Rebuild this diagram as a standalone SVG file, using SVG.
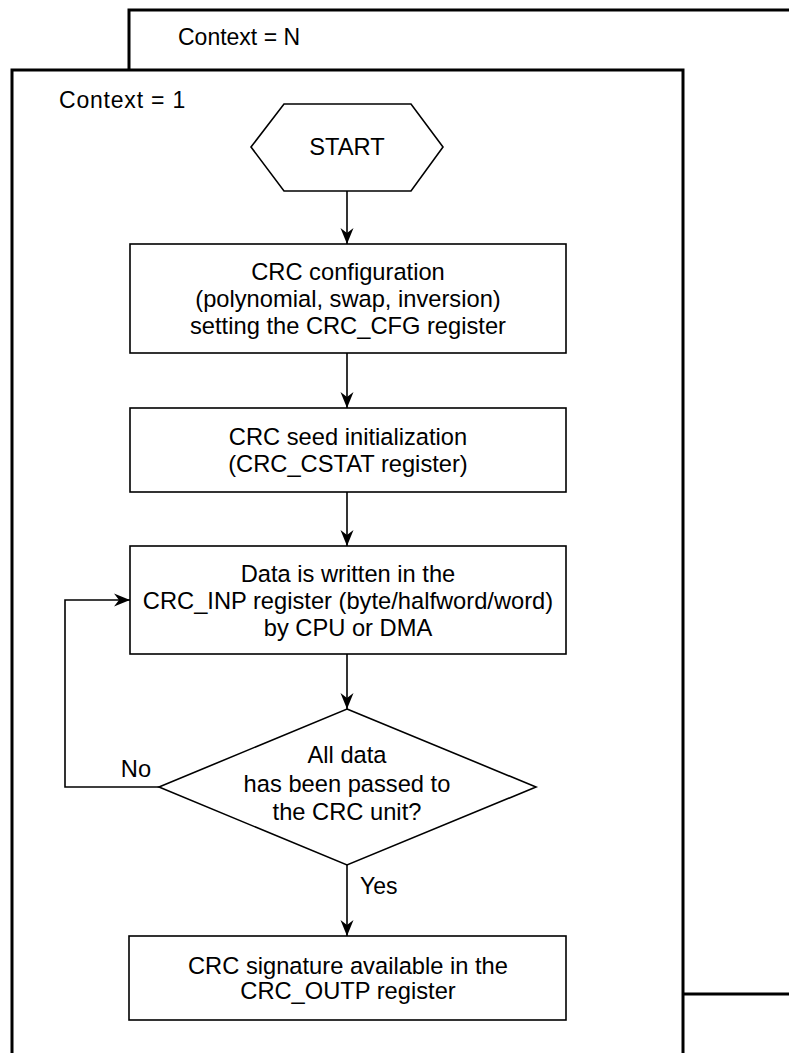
<svg xmlns="http://www.w3.org/2000/svg" width="789" height="1053" viewBox="0 0 789 1053">
<style>
.frame{fill:#fff;stroke:#000;stroke-width:3}
.box{fill:#fff;stroke:#000;stroke-width:1.6}
.conn{fill:none;stroke:#000;stroke-width:1.6}
text{font-family:"Liberation Sans",Arial,Helvetica,sans-serif;fill:#000}
.t{font-size:23.7px;text-anchor:middle}
.lbl{font-size:23px}
</style>
<defs>
<marker id="arr" viewBox="-17 -7 18 14" markerWidth="18" markerHeight="14" refX="0" refY="0" orient="auto" markerUnits="userSpaceOnUse">
<path d="M0,0 L-16,-6.5 L-11,0 L-16,6.5 Z" fill="#000"/>
</marker>
</defs>
<rect width="789" height="1053" fill="#fff"/>
<g id="frame-n">
<path class="frame" d="M129,72 V10 H795 V994 H683"/>
<text class="lbl" x="178" y="45">Context = N</text>
</g>
<g id="frame-1">
<rect class="frame" x="12" y="70" width="671" height="1000"/>
<text class="lbl" x="59" y="108" letter-spacing="0.8">Context = 1</text>
</g>
<g id="start">
<polygon class="box" points="251,147 284,104 411,104 443,147 411,191 284,191"/>
<text class="t" x="347" y="155">START</text>
</g>
<g id="config">
<rect class="box" x="130" y="244" width="436" height="109"/>
<text class="t" x="348" y="280">CRC configuration</text>
<text class="t" x="348" y="307">(polynomial, swap, inversion)</text>
<text class="t" x="348" y="334">setting the CRC_CFG register</text>
</g>
<g id="seed">
<rect class="box" x="130" y="408" width="436" height="84"/>
<text class="t" x="348" y="445">CRC seed initialization</text>
<text class="t" x="348" y="472">(CRC_CSTAT register)</text>
</g>
<g id="write">
<rect class="box" x="130" y="546" width="436" height="108"/>
<text class="t" x="348" y="582">Data is written in the</text>
<text class="t" x="348" y="609">CRC_INP register (byte/halfword/word)</text>
<text class="t" x="348" y="636">by CPU or DMA</text>
</g>
<g id="decision">
<polygon class="box" points="347,709 536,787 347,865 159,787"/>
<text class="t" x="347" y="763">All data</text>
<text class="t" x="347" y="792">has been passed to</text>
<text class="t" x="347" y="820">the CRC unit?</text>
</g>
<g id="signature">
<rect class="box" x="129" y="936" width="437" height="84"/>
<text class="t" x="348" y="974">CRC signature available in the</text>
<text class="t" x="348" y="999">CRC_OUTP register</text>
</g>
<g id="connectors">
<path class="conn" d="M347,191 V244" marker-end="url(#arr)"/>
<path class="conn" d="M347,353 V408" marker-end="url(#arr)"/>
<path class="conn" d="M347,492 V546" marker-end="url(#arr)"/>
<path class="conn" d="M347,654 V709" marker-end="url(#arr)"/>
<path class="conn" d="M347,865 V936" marker-end="url(#arr)"/>
<path class="conn" d="M159,787 H65 V600 H130" marker-end="url(#arr)"/>
<text class="t" x="136" y="777">No</text>
<text class="lbl" x="360" y="894" font-size="23.7">Yes</text>
</g>
</svg>
